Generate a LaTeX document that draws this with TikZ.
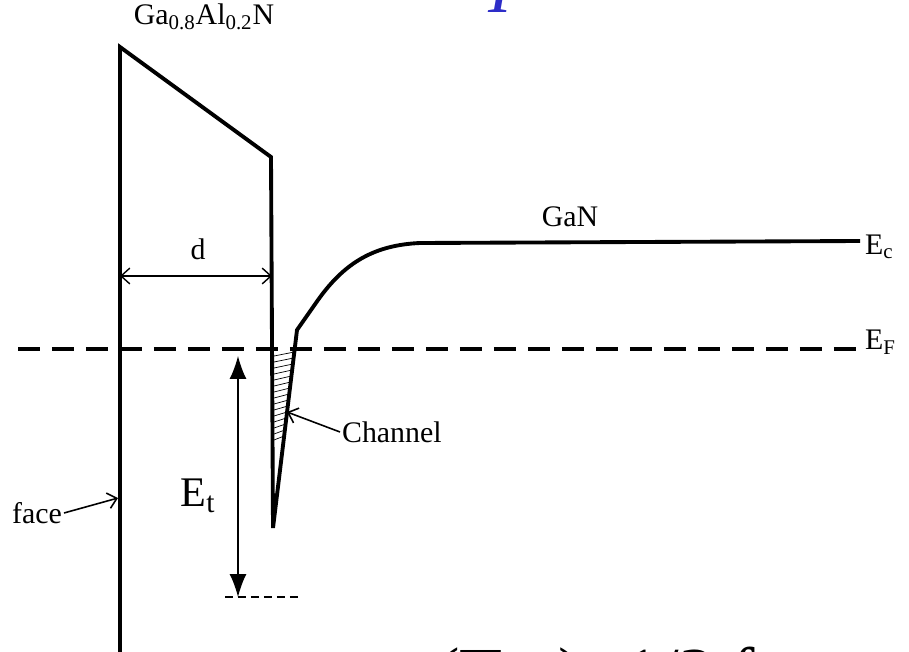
\documentclass[tikz,border=0pt]{standalone}
\usepackage{fontspec}
\setmainfont{Liberation Serif}
\usetikzlibrary{arrows.meta, positioning, calc}

\definecolor{titleblue}{RGB}{45,45,200}

\begin{document}
\begin{tikzpicture}[
    x=0.02cm, y=-0.02cm,
    every node/.style={font=\fontsize{17}{20}\selectfont, inner sep=1pt},
    band/.style={line width=2.2pt, line join=miter},
    fermi/.style={line width=2.2pt, dash pattern=on 0.44cm off 0.24cm},
    trap/.style={line width=0.7pt, dash pattern=on 0.16cm off 0.1cm},
    pointer/.style={-{Straight Barb[length=5pt, width=9pt]}, line width=0.9pt},
    dim/.style={{Straight Barb[length=5pt, width=9pt]}-{Straight Barb[length=5pt, width=9pt]}, line width=0.8pt},
    energy/.style={{Latex[length=0.46cm, width=0.34cm]}-{Latex[length=0.46cm, width=0.34cm]}, line width=0.8pt}
    ]
    \useasboundingbox (0,0) rectangle (909,652);
    \clip (0,0) rectangle (909,652);

    % conduction band edge
    \draw[band] (120,660) -- (120,47) -- (271,157) -- (273,528) -- (297,330) -- (318,300)
        .. controls (345,262) and (375,245) .. (420,243) -- (860,241);
    % electrons in the well
    \foreach \y in {354,360,...,438}
        \draw[line width=0.4pt] (274,\y+2) -- ({297-(\y-2-330)*24/198},\y-2);
    % Fermi level
    \coordinate (efl) at (18,349);
    \coordinate (efr) at (860,349);
    \draw[fermi] (efl) -- (efr);

    \node (barrier) at (204,17) {Ga\textsubscript{0.8}Al\textsubscript{0.2}N};
    \node (gan) at (570,217) {GaN};
    \node[anchor=west] (ec) at (863,247) {E\textsubscript{c}};
    \node[anchor=west] (ef) at (863,342) {E\textsubscript{F}};

    % barrier thickness
    \coordinate (dl) at (120,276);
    \coordinate (dr) at (272,276);
    \draw[dim] (dl) -- (dr);
    \node (d) at (198,249) {d};

    % trap depth
    \coordinate (ettop) at (238,356);
    \coordinate (etbot) at (238,597);
    \draw[energy] (etbot) -- (ettop);
    \coordinate (trapl) at (225,597);
    \coordinate (trapr) at (300,597);
    \draw[trap] (trapl) -- (trapr);
    \node[font=\fontsize{24}{28}\selectfont] (et) at (198,496) {E\textsubscript{t}};

    \node[anchor=west] (chan) at (340,432) {Channel};
    \coordinate (chanpt) at (287,412);
    \draw[pointer] (chan.west) -- (chanpt);

    \node (face) at (37,513) {face};
    \coordinate (facept) at (118,498);
    \draw[pointer] (face.east) -- (facept);

    % cut-off slide text
    \node[anchor=base, text=titleblue, font=\fontsize{40}{48}\selectfont\itshape] (title) at (500,13) {I};
    \node[anchor=base west, font=\fontsize{40}{48}\selectfont, inner sep=0pt] (eq) at (436,696) {(T\hspace{0.8em})\hspace{0.6em}1/2\hspace{0.25em}f};
\end{tikzpicture}
\end{document}
